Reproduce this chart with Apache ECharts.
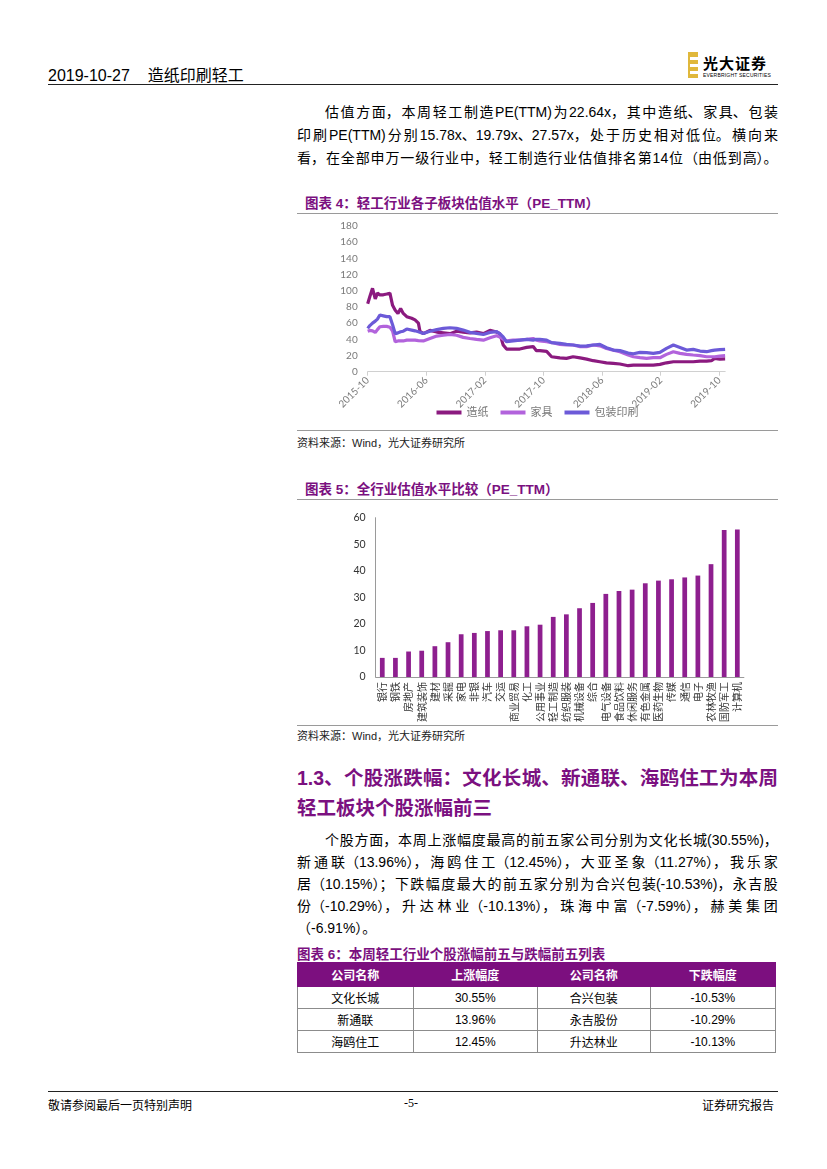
<!DOCTYPE html>
<html><head><meta charset="utf-8">
<script src="https://cdn.jsdelivr.net/npm/echarts@6/dist/echarts.min.js"></script>
<style>
html,body{margin:0;padding:0;background:#fff;}
body{width:827px;height:1169px;position:relative;overflow:hidden;font-family:"Liberation Sans","Noto Sans CJK SC",sans-serif;color:#000;}
.abs{position:absolute;}
.jl{display:flex;justify-content:space-between;white-space:nowrap;}
.ttl{position:absolute;left:305px;font-weight:bold;color:#7b1080;font-size:13.5px;font-family:"Liberation Sans","Noto Sans CJK SC",sans-serif;}
.rule{position:absolute;left:297px;width:481px;height:0;border-top:1.5px solid #9a9a9a;}
.src{position:absolute;left:297px;font-size:11px;color:#222;}
table{border-collapse:collapse;}
td{border:1px solid #8c8c8c;text-align:center;font-size:12px;height:21px;padding:0;}
th{background:#7c0f7f;color:#fff;font-weight:bold;font-size:12px;height:21px;border:1px solid #7c0f7f;}
</style></head>
<body>
<!-- header -->
<div class="abs" style="left:48px;top:62px;font-size:16px;font-family:'Liberation Sans Narrow','Liberation Sans','Noto Sans CJK SC';">2019-10-27&nbsp;&nbsp;&nbsp;&nbsp;造纸印刷轻工</div>
<div class="abs" style="left:48px;top:84px;width:730px;border-top:1.5px solid #222;"></div>
<div class="abs" style="left:688px;top:52px;width:10px;height:26px;background:#e0b83c;"></div>
<div class="abs" style="left:690px;top:57px;width:8px;height:3px;background:#fff;"></div>
<div class="abs" style="left:690px;top:64px;width:8px;height:3px;background:#fff;"></div>
<div class="abs" style="left:690px;top:71px;width:8px;height:3px;background:#fff;"></div>
<div class="abs" style="left:703px;top:52px;font-size:15px;font-weight:bold;font-family:'Noto Sans CJK SC';letter-spacing:1px;">光大证券</div>
<div class="abs" style="left:703px;top:72px;font-size:5px;letter-spacing:0.2px;">EVERBRIGHT SECURITIES</div>

<!-- paragraph 1 -->
<div class="abs" style="left:297px;top:101px;width:481px;font-size:14px;line-height:23px;">
<div class="jl" style="padding-left:28px;"><span>估</span><span>值</span><span>方</span><span>面，</span><span>本</span><span>周</span><span>轻</span><span>工</span><span>制</span><span>造</span><span>PE(TTM)</span><span>为</span><span>22.64x，</span><span>其</span><span>中</span><span>造</span><span>纸、</span><span>家</span><span>具、</span><span>包</span><span>装</span></div>
<div class="jl"><span>印</span><span>刷</span><span>PE(TTM)</span><span>分</span><span>别</span><span>15.78x、19.79x、27.57x，</span><span>处</span><span>于</span><span>历</span><span>史</span><span>相</span><span>对</span><span>低</span><span>位。</span><span>横</span><span>向</span><span>来</span></div>
<div class="jl"><span>看，</span><span>在</span><span>全</span><span>部</span><span>申</span><span>万</span><span>一</span><span>级</span><span>行</span><span>业</span><span>中，</span><span>轻</span><span>工</span><span>制</span><span>造</span><span>行</span><span>业</span><span>估</span><span>值</span><span>排</span><span>名</span><span>第</span><span>14</span><span>位</span><span>（由</span><span>低</span><span>到</span><span>高）。</span></div>
</div>

<div class="ttl" style="top:192px;">图表 4：轻工行业各子板块估值水平（PE_TTM）</div>
<div class="rule" style="top:213px;"></div>
<div id="c1" class="abs" style="left:297px;top:214px;width:481px;height:212px;"></div>
<div class="rule" style="top:430px;"></div>
<div class="src" style="top:434px;">资料来源：Wind，光大证券研究所</div>

<div class="ttl" style="top:478px;">图表 5：全行业估值水平比较（PE_TTM）</div>
<div class="rule" style="top:499px;"></div>
<div id="c2" class="abs" style="left:297px;top:500px;width:481px;height:225px;"></div>
<div class="rule" style="top:725px;"></div>
<div class="src" style="top:727px;">资料来源：Wind，光大证券研究所</div>

<!-- heading -->
<div class="abs" style="left:297px;top:763px;width:481px;font-size:19.5px;line-height:30px;font-weight:bold;color:#7b1080;">
<div class="jl"><span>1.3、</span><span>个</span><span>股</span><span>涨</span><span>跌</span><span>幅：</span><span>文</span><span>化</span><span>长</span><span>城、</span><span>新</span><span>通</span><span>联、</span><span>海</span><span>鸥</span><span>住</span><span>工</span><span>为</span><span>本</span><span>周</span></div>
<div>轻工板块个股涨幅前三</div>
</div>

<!-- paragraph 2 -->
<div class="abs" style="left:297px;top:829px;width:481px;font-size:14px;line-height:22px;">
<div class="jl" style="padding-left:28px;"><span>个</span><span>股</span><span>方</span><span>面，</span><span>本</span><span>周</span><span>上</span><span>涨</span><span>幅</span><span>度</span><span>最</span><span>高</span><span>的</span><span>前</span><span>五</span><span>家</span><span>公</span><span>司</span><span>分</span><span>别</span><span>为</span><span>文</span><span>化</span><span>长</span><span>城(30.55%)，</span></div>
<div class="jl"><span>新</span><span>通</span><span>联（13.96%），</span><span>海</span><span>鸥</span><span>住</span><span>工（12.45%），</span><span>大</span><span>亚</span><span>圣</span><span>象（11.27%），</span><span>我</span><span>乐</span><span>家</span></div>
<div class="jl"><span>居（10.15%）；</span><span>下</span><span>跌</span><span>幅</span><span>度</span><span>最</span><span>大</span><span>的</span><span>前</span><span>五</span><span>家</span><span>分</span><span>别</span><span>为</span><span>合</span><span>兴</span><span>包</span><span>装(-10.53%)，</span><span>永</span><span>吉</span><span>股</span></div>
<div class="jl"><span>份（-10.29%），</span><span>升</span><span>达</span><span>林</span><span>业（-10.13%），</span><span>珠</span><span>海</span><span>中</span><span>富（-7.59%），</span><span>赫</span><span>美</span><span>集</span><span>团</span></div>
<div>（-6.91%）。</div>
</div>

<div class="ttl" style="top:943px;left:297px;">图表 6：本周轻工行业个股涨幅前五与跌幅前五列表</div>
<table class="abs" style="left:297px;top:962px;width:479px;">
<tr><th style="width:116px;">公司名称</th><th style="width:124px;">上涨幅度</th><th style="width:113px;">公司名称</th><th style="width:125px;">下跌幅度</th></tr>
<tr><td>文化长城</td><td>30.55%</td><td>合兴包装</td><td>-10.53%</td></tr>
<tr><td>新通联</td><td>13.96%</td><td>永吉股份</td><td>-10.29%</td></tr>
<tr><td>海鸥住工</td><td>12.45%</td><td>升达林业</td><td>-10.13%</td></tr>
</table>

<!-- footer -->
<div class="abs" style="left:48px;top:1091px;width:730px;border-top:1.5px solid #222;"></div>
<div class="abs" style="left:48px;top:1096px;font-size:12px;font-family:'Noto Sans CJK SC';">敬请参阅最后一页特别声明</div>
<div class="abs" style="left:404px;top:1096px;font-size:12px;font-family:'Liberation Serif';">-5-</div>
<div class="abs" style="left:702px;top:1096px;font-size:12px;font-family:'Noto Sans CJK SC';">证券研究报告</div>

<script>
// ---- chart 1 data ----
const dates = ["2015-10-01","2015-10-10","2015-10-21","2015-11-02","2015-11-11","2015-11-21","2015-12-05","2015-12-19","2016-01-02","2016-01-13","2016-01-24","2016-02-05","2016-02-16","2016-02-27","2016-03-11","2016-04-01","2016-04-15","2016-04-29","2016-05-05","2016-05-19","2016-06-16","2016-07-14","2016-08-11","2016-09-08","2016-10-05","2016-11-02","2016-11-30","2016-12-27","2017-01-25","2017-02-22","2017-03-19","2017-04-02","2017-04-16","2017-04-30","2017-05-27","2017-06-24","2017-07-22","2017-08-19","2017-09-02","2017-09-16","2017-10-14","2017-11-04","2017-12-08","2018-01-05","2018-02-02","2018-03-01","2018-03-28","2018-04-25","2018-05-22","2018-06-19","2018-07-17","2018-08-14","2018-09-18","2018-10-09","2018-11-06","2018-12-03","2018-12-31","2019-01-28","2019-02-25","2019-03-23","2019-04-20","2019-05-17","2019-06-14","2019-07-12","2019-08-09","2019-08-29","2019-09-12","2019-10-03","2019-10-25"];
const paper = [84,93,103,90,97,95,95,96,97,82,76,72,78,72,68,66,64,60,50,47,51,49,48,47,50,49,48,49,47,51,49,47,33,28,28,28,30,31,26,26,25,18.5,17,16.5,18.5,17,15.6,13.6,12.3,11,10.3,9.5,7.4,8.2,8.2,8.2,8.2,9,11,12.3,12.3,12.3,12.3,13,13,13.6,16.5,15.6,15.8];
const furniture = [50,51,50.5,48.5,52,55.5,56,56,55,50,37,38,38,38,39,39,39,38.5,38,38,41,44,45,46,45,42.4,41,40,39,42,44.4,43,40,38,39,39,40,41,39,38,37,36,33.7,33,33,31,31,33,32,28.8,26.7,24.7,20.6,18.5,17.3,16.5,17.3,17.3,21.4,24.7,22.6,21.4,20.6,19.8,18.5,18.5,18.5,19.3,19.8];
const packaging = [53.5,57,60,62.5,65,70,69,68,68,58,47,48,49.4,50,52.7,51.4,50.5,49.4,48,47.3,50,52,53.5,54.3,53.5,51.4,48.6,47.3,46,48.6,49.4,47,43,37,38,39,40,39,40,40,39,36,35,33.7,33,31.7,32,33,33.7,29.6,26.7,26,23,22.2,23.9,23.5,22.6,23.9,28.8,33,30,26.7,27.6,25.5,24.7,26,26.7,27.2,27.6];
const lineNames = ["造纸","家具","包装印刷"];
const xTickLabels = ["2015-10","2016-06","2017-02","2017-10","2018-06","2019-02","2019-10"];

// ---- chart 2 data ----
const industries = ["银行","钢铁","房地产","建筑装饰","建材","采掘","家电","非银","汽车","交运","商业贸易","化工","公用事业","轻工制造","纺织服装","机械设备","综合","电气设备","食品饮料","休闲服务","有色金属","医药生物","传媒","通信","电子","农林牧渔","国防军工","计算机"];
const peValues = [7.2,7.2,9.6,9.9,11.6,13.1,16.1,16.6,17.3,17.6,17.6,19.1,19.7,22.64,23.6,25.9,27.9,31.3,32.4,32.9,35.3,36.3,36.8,37.5,38.2,42.5,55.4,55.6];

function monthOffset(s){const p=s.split('-').map(Number);return (p[0]-2015)*12+(p[1]-10)+(p[2]-1)/30.4;}
function tickOffset(s){const p=s.split('-').map(Number);return (p[0]-2015)*12+(p[1]-10);}
const tickVals = xTickLabels.map(tickOffset);
const pair = arr => dates.map((d,i)=>[monthOffset(d),arr[i]]);

const gray = '#7a7a7a';
const c1 = echarts.init(document.getElementById('c1'));
c1.setOption({
  animation:false,
  grid:{left:70.7,top:12,right:52.8,bottom:54.3},
  legend:{bottom:3,left:'center',itemWidth:25,itemHeight:4,itemGap:12,icon:'rect',
    textStyle:{color:gray,fontSize:11,fontFamily:'Lato,"Noto Sans CJK SC"'},data:lineNames},
  xAxis:{type:'value',min:0,max:48.8,interval:8,
    axisLine:{lineStyle:{color:'#d0d0d0'}},
    axisTick:{show:true,length:4,lineStyle:{color:'#d0d0d0'},customValues:tickVals},
    splitLine:{show:false},
    axisLabel:{customValues:tickVals,rotate:45,color:gray,fontSize:10,margin:7,fontFamily:'Lato',
      formatter:v=>{const i=tickVals.indexOf(Math.round(v));return i>=0?xTickLabels[i]:'';}}},
  yAxis:{type:'value',min:0,max:180,interval:20,
    axisLine:{show:false},axisTick:{show:false},splitLine:{show:false},
    axisLabel:{color:gray,fontSize:10,margin:10,fontFamily:'Lato'}},
  series:[
    {name:lineNames[0],type:'line',data:pair(paper),showSymbol:false,lineStyle:{width:3.2,color:'#8b1a7f'},itemStyle:{color:'#8b1a7f'}},
    {name:lineNames[1],type:'line',data:pair(furniture),showSymbol:false,lineStyle:{width:3.2,color:'#b263dc'},itemStyle:{color:'#b263dc'}},
    {name:lineNames[2],type:'line',data:pair(packaging),showSymbol:false,lineStyle:{width:3.2,color:'#6c5ad8'},itemStyle:{color:'#6c5ad8'}}
  ]
});

const c2 = echarts.init(document.getElementById('c2'));
c2.setOption({
  animation:false,
  grid:{left:78.7,top:17.7,width:368.2,height:160.3},
  xAxis:{type:'category',data:industries,
    axisLine:{lineStyle:{color:'#9a9a9a'}},axisTick:{show:false},
    axisLabel:{rotate:90,interval:0,fontSize:10,color:'#333',margin:5,fontFamily:'"Noto Sans CJK SC"'}},
  yAxis:{type:'value',min:0,max:60,interval:10,
    axisLine:{show:true,lineStyle:{color:'#9a9a9a'}},axisTick:{show:false},splitLine:{show:false},
    axisLabel:{fontSize:10.5,color:'#333',margin:10,fontFamily:'Lato'}},
  series:[{type:'bar',data:peValues,barWidth:'36%',itemStyle:{color:'#8e1f8f'}}]
});
</script>
</body></html>
